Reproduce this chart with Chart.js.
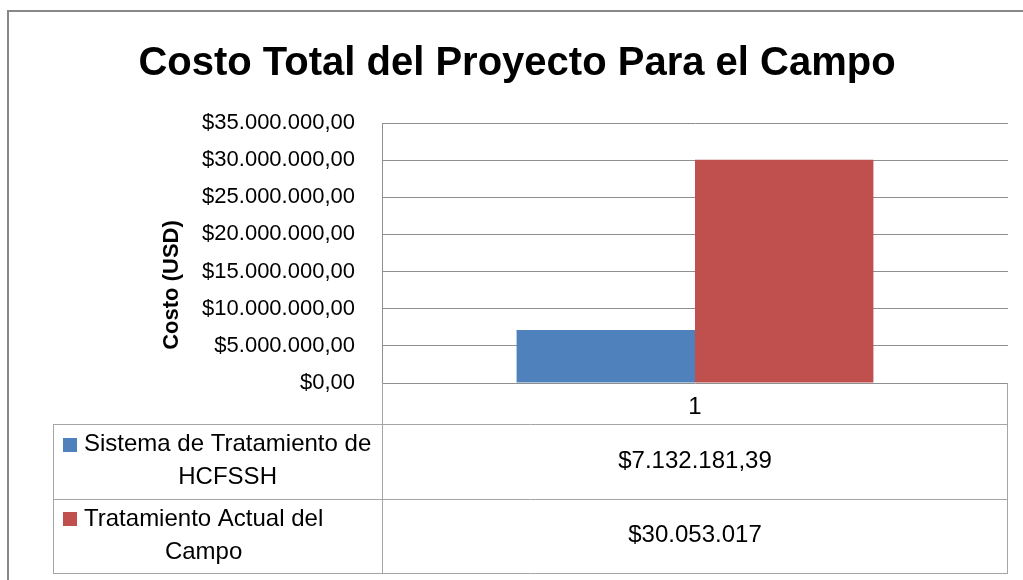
<!DOCTYPE html>
<html>
<head>
<meta charset="utf-8">
<title>Costo Total del Proyecto Para el Campo</title>
<script src="https://cdn.jsdelivr.net/npm/chart.js@4/dist/chart.umd.min.js"></script>
<style>
  html, body { margin: 0; padding: 0; background: #fff; }
  #wrap { width: 1023px; height: 580px; }
</style>
</head>
<body>
<div id="wrap"><canvas id="costChart"></canvas></div>
<script>
// datos
const categorias = ['1'];
const seriesNombres = ['Sistema de Tratamiento de HCFSSH', 'Tratamiento Actual del Campo'];
const seriesValores = [7132181.39, 30053017];
const seriesColores = ['#4F81BD', '#C0504D'];
const ejeY = { min: 0, max: 35000000, paso: 5000000 };

const FONT = "'Liberation Sans', Arial, sans-serif";
const GRID = '#8f8f8f';
const TABLA = '#a5a5a5';

function money(v, dec) {
  const parts = v.toFixed(dec).split('.');
  const ent = parts[0].replace(/\B(?=(\d{3})+(?!\d))/g, '.');
  return '$' + ent + (dec ? ',' + parts[1] : '');
}

function wrapText(ctx, text, maxWidth) {
  const words = text.split(' ');
  const lines = [];
  let line = '';
  words.forEach(w => {
    const test = line ? line + ' ' + w : w;
    if (ctx.measureText(test).width > maxWidth && line) {
      lines.push(line);
      line = w;
    } else {
      line = test;
    }
  });
  if (line) lines.push(line);
  return lines;
}

// ===============================
// tabla de datos + marco
// ===============================
const tablaPlugin = {
  id: 'tablaDatos',
  afterDraw(chart) {
    const ctx = chart.ctx;
    const area = chart.chartArea;
    const xScale = chart.scales.x;

    const tablaIzq = 53;
    const filaCat = area.bottom + 41;
    const altoFila = 74.5;
    const tablaFin = filaCat + altoFila * seriesNombres.length;

    ctx.save();

    // marco exterior
    ctx.strokeStyle = '#888';
    ctx.lineWidth = 2;
    ctx.strokeRect(8, 11, 2000, 2000);

    // titulo eje Y
    ctx.fillStyle = '#000';
    ctx.font = "bold 22px " + FONT;
    ctx.textAlign = 'center';
    ctx.textBaseline = 'middle';
    ctx.translate(172, 285);
    ctx.rotate(-Math.PI / 2);
    ctx.fillText('Costo (USD)', 0, 0);
    ctx.setTransform(1, 0, 0, 1, 0, 0);

    // lineas de la tabla
    ctx.strokeStyle = TABLA;
    ctx.lineWidth = 1;
    ctx.beginPath();
    ctx.moveTo(area.left + 0.5, area.bottom);
    ctx.lineTo(area.left + 0.5, tablaFin + 0.5);
    ctx.moveTo(area.right - 0.5, area.bottom);
    ctx.lineTo(area.right - 0.5, tablaFin + 0.5);
    ctx.moveTo(tablaIzq + 0.5, filaCat + 0.5);
    ctx.lineTo(tablaIzq + 0.5, tablaFin + 0.5);
    for (let i = 0; i <= seriesNombres.length; i++) {
      const y = Math.round(filaCat + altoFila * i) + 0.5;
      ctx.moveTo(tablaIzq, y);
      ctx.lineTo(area.right, y);
    }
    ctx.stroke();

    // filas: clave, nombre y valor
    ctx.font = "24px " + FONT;
    ctx.fillStyle = '#000';
    seriesNombres.forEach((nombre, i) => {
      const yc = filaCat + altoFila * i + altoFila / 2;
      const lineas = wrapText(ctx, nombre, 295);
      const ancho = Math.max(...lineas.map(l => ctx.measureText(l).width));
      const y0 = yc - (lineas.length - 1) * 16.5;

      ctx.fillStyle = seriesColores[i];
      ctx.fillRect(63, Math.round(y0) - 7, 14, 14);

      ctx.fillStyle = '#000';
      ctx.textAlign = 'center';
      ctx.textBaseline = 'middle';
      lineas.forEach((l, k) => {
        ctx.fillText(l, 84 + ancho / 2, y0 + k * 33);
      });

      const v = seriesValores[i];
      const dec = Number.isInteger(v) ? 0 : 2;
      categorias.forEach((c, j) => {
        ctx.fillText(money(v, dec), xScale.getPixelForValue(j), yc);
      });
    });

    ctx.restore();
  }
};

// ===============================
// grafico
// ===============================
const ctx = document.getElementById('costChart').getContext('2d');

new Chart(ctx, {
  type: 'bar',
  data: {
    labels: categorias,
    datasets: seriesNombres.map((n, i) => ({
      label: n,
      data: [seriesValores[i]],
      backgroundColor: seriesColores[i],
      borderWidth: 0,
      categoryPercentage: 0.57,
      barPercentage: 1.0
    }))
  },
  options: {
    responsive: true,
    maintainAspectRatio: false,
    animation: false,
    layout: { padding: { left: 26, right: 15, top: 0, bottom: 0 } },
    plugins: {
      legend: { display: false },
      tooltip: { enabled: false },
      title: {
        display: true,
        text: 'Costo Total del Proyecto Para el Campo',
        color: '#000',
        font: { family: FONT, size: 40, weight: 'bold' },
        padding: { top: 40, bottom: 35 }
      }
    },
    scales: {
      x: {
        grid: { display: false },
        border: { display: false },
        ticks: { color: '#000', font: { family: FONT, size: 24 }, padding: 2 },
        afterFit(scale) { scale.height = 197; }
      },
      y: {
        min: ejeY.min,
        max: ejeY.max,
        grid: { color: GRID, lineWidth: 1, drawTicks: false },
        border: { display: true, color: GRID },
        ticks: {
          stepSize: ejeY.paso,
          color: '#000',
          padding: 27,
          font: { family: FONT, size: 22 },
          callback: v => money(v, 2)
        },
        afterFit(scale) { scale.width = 356; }
      }
    }
  },
  plugins: [tablaPlugin]
});
</script>
</body>
</html>
